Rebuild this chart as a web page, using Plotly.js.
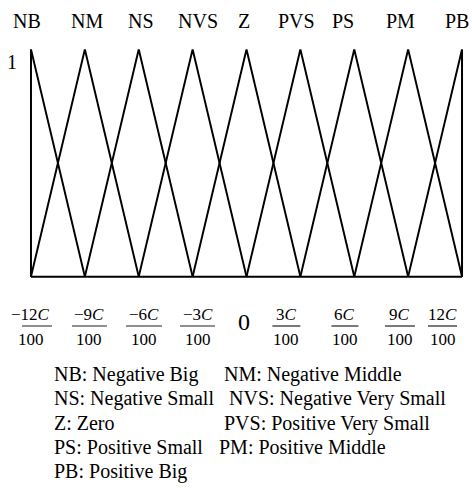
<!DOCTYPE html>
<html>
<head>
<meta charset="utf-8">
<script src="https://cdn.plot.ly/plotly-3.0.1.min.js"></script>
<style>html,body{margin:0;padding:0;background:#fff;}#chart{width:472px;height:493px;}</style>
</head>
<body>
<div id="chart"></div>
<script>
// ---- data ----
const sets = ['NB', 'NM', 'NS', 'NVS', 'Z', 'PVS', 'PS', 'PM', 'PB'];
const names = ['Negative Big', 'Negative Middle', 'Negative Small', 'Negative Very Small', 'Zero',
               'Positive Very Small', 'Positive Small', 'Positive Middle', 'Positive Big'];
const leftFoot = [-12, -12, -9, -6, -3, 0, 3, 6, 9];
const peak = [-12, -9, -6, -3, 0, 3, 6, 9, 12];
const rightFoot = [-9, -6, -3, 0, 3, 6, 9, 12, 12];
const membership = [0, 1, 0];
const tickVals = [-12, -9, -6, -3, 0, 3, 6, 9, 12];
const tickNum = ['\u221212<i>C</i>', '\u22129<i>C</i>', '\u22126<i>C</i>', '\u22123<i>C</i>', '0',
                 '3<i>C</i>', '6<i>C</i>', '9<i>C</i>', '12<i>C</i>'];
const tickDen = ['100', '100', '100', '100', '', '100', '100', '100', '100'];
const baseX = [-12, 12];
const baseY = [0, 0];

// ---- layout tweaks (pixel styling) ----
const FONT = '"Liberation Serif"';
const topShift = [-4, 2, 2, 5, -2.5, -3.5, -11, -8, -5];
const tickShift = [0, 4.6, 5.3, 4.9, -2.5, -14, -9.3, -8.2, -19.5];
const barWidth = [42, 35, 36, 35, 0, 28, 27, 30, 29];
const legendRows = [[0, 1], [2, 3], [4, 5], [6, 7], [8]];
const legendRowY = [374, 398, 423, 447, 471];
const legendColX = [[52, 222], [52, 227], [52, 222], [52, 217], [52]];
const PLOT_LEFT = 22, PLOT_BOTTOM = 288, PLOT_TOP = 38;

const traces = sets.map((s, i) => ({
  type: 'scatter', mode: 'lines', name: s,
  x: [leftFoot[i], peak[i], rightFoot[i]],
  y: membership,
  line: {color: '#000', width: 2},
  hoverinfo: 'skip', cliponaxis: false
}));
traces.push({type: 'scatter', mode: 'lines', x: baseX, y: baseY,
  line: {color: '#000', width: 2}, hoverinfo: 'skip', cliponaxis: false});

const annotations = [];
const shapes = [];
sets.forEach((s, i) => {
  annotations.push({xref: 'x', yref: 'paper', x: peak[i], y: 1, xshift: topShift[i],
    yshift: PLOT_TOP - 21, text: s, showarrow: false, xanchor: 'center', yanchor: 'middle',
    font: {family: FONT, size: 20, color: '#000'}});
});
annotations.push({xref: 'paper', yref: 'y', x: 0, y: 1, xshift: 12 - PLOT_LEFT, yshift: -13,
  text: '1', showarrow: false, xanchor: 'center', yanchor: 'middle',
  font: {family: FONT, size: 20, color: '#000'}});

tickVals.forEach((v, i) => {
  if (tickDen[i] === '') {
    annotations.push({xref: 'x', yref: 'paper', x: v, y: 0, xshift: tickShift[i],
      yshift: PLOT_BOTTOM - 322, text: tickNum[i], showarrow: false,
      xanchor: 'center', yanchor: 'middle', font: {family: FONT, size: 24, color: '#000'}});
    return;
  }
  annotations.push({xref: 'x', yref: 'paper', x: v, y: 0, xshift: tickShift[i],
    yshift: PLOT_BOTTOM - 314, text: tickNum[i], showarrow: false,
    xanchor: 'center', yanchor: 'middle', font: {family: FONT, size: 17, color: '#000'}});
  annotations.push({xref: 'x', yref: 'paper', x: v, y: 0, xshift: tickShift[i],
    yshift: PLOT_BOTTOM - 339, text: tickDen[i], showarrow: false,
    xanchor: 'center', yanchor: 'middle', font: {family: FONT, size: 17, color: '#000'}});
  shapes.push({type: 'line', xref: 'x', yref: 'paper', xsizemode: 'pixel', ysizemode: 'pixel',
    xanchor: v, yanchor: 0,
    x0: tickShift[i] - barWidth[i] / 2, x1: tickShift[i] + barWidth[i] / 2,
    y0: PLOT_BOTTOM - 326, y1: PLOT_BOTTOM - 326,
    line: {color: '#222', width: 1.2}});
});

legendRows.forEach((row, r) => {
  row.forEach((idx, c) => {
    annotations.push({xref: 'paper', yref: 'paper', x: 0, y: 0,
      xshift: legendColX[r][c] - PLOT_LEFT, yshift: PLOT_BOTTOM - legendRowY[r],
      text: sets[idx] + ': ' + names[idx], showarrow: false,
      xanchor: 'left', yanchor: 'middle', font: {family: FONT, size: 20, color: '#000'}});
  });
});

const layout = {
  width: 472, height: 493,
  font: {family: FONT},
  margin: {l: PLOT_LEFT, r: 1, t: PLOT_TOP, b: 493 - PLOT_BOTTOM, pad: 0},
  paper_bgcolor: '#fff', plot_bgcolor: '#fff',
  showlegend: false,
  xaxis: {range: [-12.5, 12.5], visible: false, fixedrange: true},
  yaxis: {range: [-0.05, 1.05], visible: false, fixedrange: true},
  annotations: annotations, shapes: shapes
};

Plotly.newPlot('chart', traces, layout, {displayModeBar: false, staticPlot: true});
</script>
</body>
</html>
